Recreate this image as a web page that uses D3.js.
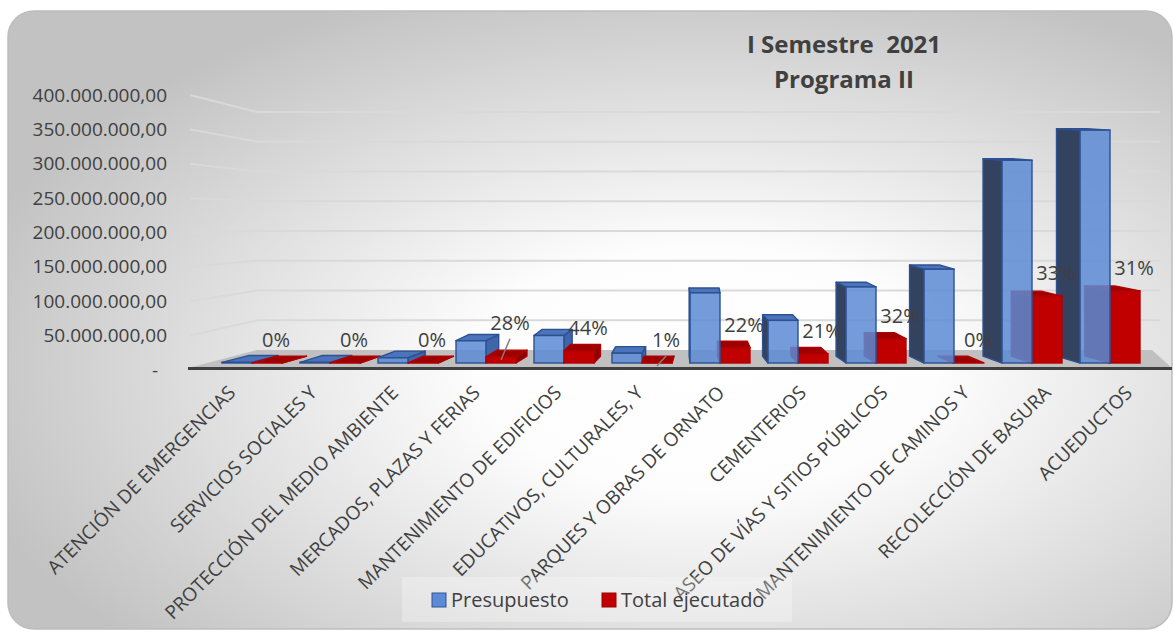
<!DOCTYPE html>
<html>
<head>
<meta charset="utf-8">
<script src="https://cdn.jsdelivr.net/npm/d3@7"></script>
<style>
  html, body { margin: 0; padding: 0; background: #fff; }
  svg { display: block; font-family: "Open Sans", sans-serif; }
</style>
</head>
<body>
<svg id="chart" width="1174" height="632"></svg>
<script>
// data
const categories = [
    'ATENCIÓN DE EMERGENCIAS',
    'SERVICIOS SOCIALES Y',
    'PROTECCIÓN DEL MEDIO AMBIENTE',
    'MERCADOS, PLAZAS Y FERIAS',
    'MANTENIMIENTO DE EDIFICIOS',
    'EDUCATIVOS, CULTURALES, Y',
    'PARQUES Y OBRAS DE ORNATO',
    'CEMENTERIOS',
    'ASEO DE VÍAS Y SITIOS PÚBLICOS',
    'MANTENIMIENTO DE CAMINOS Y',
    'RECOLECCIÓN DE BASURA',
    'ACUEDUCTOS'
];
const presupuesto = [1000000, 1000000, 8000000, 34000000, 42000000, 15000000, 107000000, 65000000, 116000000, 143000000, 309000000, 355000000];
const ejecutado = [0, 0, 0, 9500000, 18500000, 150000, 23500000, 13700000, 37000000, 0, 102000000, 110000000];
const pctLabels = ['0%', '0%', '0%', '28%', '44%', '1%', '22%', '21%', '32%', '0%', '33%', '31%'];
const seriesNames = ['Presupuesto', 'Total ejecutado'];
const yTicks = d3.range(0, 400000001, 50000000);
const titleLines = ['I Semestre  2021', 'Programa II'];

const txtColor = '#404040';

document.addEventListener('DOMContentLoaded', function() {

    const svg = d3.select('#chart');
    const defs = svg.append('defs');

    // background panel
    const bg = defs.append('radialGradient')
        .attr('id', 'bgGrad')
        .attr('cx', 0.6).attr('cy', 0.58).attr('r', 0.66);
    bg.selectAll('stop')
        .data([[0, '#ffffff'], [0.3, '#fdfdfd'], [1, '#c2c2c2']])
        .join('stop')
            .attr('offset', d => d[0])
            .attr('stop-color', d => d[1]);

    svg.append('rect')
        .attr('x', 8).attr('y', 11)
        .attr('width', 1164).attr('height', 618)
        .attr('rx', 26)
        .attr('fill', 'url(#bgGrad)')
        .attr('stroke', '#bdbdbd')
        .attr('stroke-width', 1.5);

    // scales
    const x = d3.scaleBand()
        .domain(categories)
        .range([213, 1149])
        .paddingInner(18 / 78)
        .paddingOuter(9 / 78);
    const xs = d3.scaleBand()
        .domain(seriesNames)
        .range([0, x.bandwidth()]);
    const xLabel = d3.scalePoint()
        .domain(categories)
        .range([236, 1133]);

    const yFront = d3.scaleLinear().domain([0, 400000000]).range([370, 95]);
    const yBack = d3.scaleLinear().domain([0, 400000000]).range([350, 112]);
    const yBar = d3.scaleLinear().domain([0, 400000000]).range([363, 100.6]);

    const color = d3.scaleOrdinal().domain(seriesNames).range(['#5d8ad4', '#c00000']);

    // walls
    const wallLeft = 190, wallBack = 257, wallRight = 1160;
    svg.append('g')
        .selectAll('path')
        .data(yTicks.slice(1))
        .join('path')
            .attr('d', v => `M${wallLeft},${yFront(v)}L${wallBack},${yBack(v)}L${wallRight},${yBack(v)}`)
            .attr('fill', 'none')
            .attr('stroke', '#d9d9d9')
            .attr('stroke-width', 2);

    // floor
    svg.append('path')
        .attr('d', `M${wallBack},${yBack(0)}L${wallRight - 8},${yBack(0)}L1172,${yFront(0) - 2}L${wallLeft - 2},${yFront(0) - 2}Z`)
        .attr('fill', '#c0c0c0');
    svg.append('line')
        .attr('x1', wallLeft - 2).attr('x2', 1172)
        .attr('y1', yFront(0) - 1.5).attr('y2', yFront(0) - 1.5)
        .attr('stroke', '#3f3f3f')
        .attr('stroke-width', 3);

    // y axis
    const loc = d3.formatLocale({ decimal: ',', thousands: '.', grouping: [3], currency: ['', ''] });
    const fmt = loc.format(',.2f');
    const yAxis = svg.append('g')
        .attr('transform', 'translate(167,0)')
        .call(d3.axisLeft(yFront).tickValues(yTicks).tickSize(0).tickPadding(0)
            .tickFormat(v => v === 0 ? '-' : fmt(v)));
    yAxis.select('.domain').remove();
    yAxis.selectAll('text')
        .attr('font-family', '"Open Sans", sans-serif')
        .attr('font-size', 19)
        .attr('fill', txtColor)
        .attr('dx', v => v === 0 ? -9 : 0);

    // pseudo 3d columns
    const vpX = 690, k = 0.058;
    const faces = svg.append('g');

    function drawBox(g, x0, x1, v, fill, top, side, stroke, frontOpacity) {
        const yT = yBar(v), yB = yBar(0);
        const dx = (vpX - (x0 + x1) / 2) * k;
        const dyT = Math.max(1.5, (yT - 120) * 0.028);
        const dyB = (yB - 120) * 0.028;
        const sx = dx < 0 ? x0 : x1;
        g.append('path')
            .attr('d', `M${sx},${yT}L${sx + dx},${yT - dyT}L${sx + dx},${yB - dyB}L${sx},${yB}Z`)
            .attr('fill', side).attr('stroke', stroke).attr('stroke-width', 1.4)
            .attr('stroke-linejoin', 'round');
        g.append('path')
            .attr('d', `M${x0},${yT}L${x1},${yT}L${x1 + dx},${yT - dyT}L${x0 + dx},${yT - dyT}Z`)
            .attr('fill', top).attr('stroke', stroke).attr('stroke-width', 1.4)
            .attr('stroke-linejoin', 'round');
        g.append('rect')
            .attr('x', x0).attr('y', yT)
            .attr('width', x1 - x0).attr('height', yB - yT)
            .attr('fill', fill).attr('fill-opacity', frontOpacity)
            .attr('stroke', stroke).attr('stroke-width', 1.4);
    }

    const order = d3.range(categories.length)
        .sort((a, b) => Math.abs(x(categories[b]) + 30 - vpX) - Math.abs(x(categories[a]) + 30 - vpX));

    order.forEach(function(i) {
        const c = categories[i];
        const g = faces.append('g');
        const bx0 = x(c) + xs('Presupuesto'), bx1 = bx0 + xs.bandwidth();
        const rx0 = x(c) + xs('Total ejecutado'), rx1 = rx0 + xs.bandwidth();
        const drawBlue = () => drawBox(g, bx0, bx1, presupuesto[i], color('Presupuesto'), '#4c74bb', (bx0 + bx1) / 2 > vpX ? '#33425f' : '#3f66ab', '#2c5193', 0.86);
        const drawRed = () => drawBox(g, rx0, rx1, ejecutado[i], color('Total ejecutado'), '#9e0000', '#8a0000', '#b00000', 1);
        if (x(c) + 30 > vpX) { drawRed(); drawBlue(); }
        else { drawBlue(); drawRed(); }
    });

    // data labels on the executed series
    const labelRaise = { 'MERCADOS, PLAZAS Y FERIAS': 11 };
    const leaders = ['MERCADOS, PLAZAS Y FERIAS', 'EDUCATIVOS, CULTURALES, Y'];
    const labels = svg.append('g');
    categories.forEach(function(c, i) {
        const rc = x(c) + xs('Total ejecutado') + xs.bandwidth() / 2;
        const ly = yBar(ejecutado[i]) - 23 - (labelRaise[c] || 0);
        const lx = rc + 9;
        if (leaders.includes(c)) {
            labels.append('line')
                .attr('x1', lx).attr('y1', ly + 16)
                .attr('x2', rc).attr('y2', yBar(ejecutado[i]) + 3)
                .attr('stroke', '#7f7f7f').attr('stroke-width', 1.5);
        }
        labels.append('text')
            .attr('x', lx).attr('y', ly)
            .attr('dy', '0.35em')
            .attr('text-anchor', 'middle')
            .attr('font-size', 20)
            .attr('fill', txtColor)
            .text(pctLabels[i]);
    });

    // category axis
    const xAxis = svg.append('g')
        .attr('transform', 'translate(0,394)')
        .call(d3.axisBottom(xLabel).tickSize(0).tickPadding(0));
    xAxis.select('.domain').remove();
    xAxis.selectAll('text')
        .attr('font-family', '"Open Sans", sans-serif')
        .attr('font-size', 19)
        .attr('fill', txtColor)
        .attr('text-anchor', 'end')
        .attr('x', 0).attr('y', 0).attr('dy', 0)
        .attr('transform', 'rotate(-45)');

    // legend
    svg.append('rect')
        .attr('x', 402).attr('y', 577)
        .attr('width', 390).attr('height', 45)
        .attr('fill', '#ffffff').attr('fill-opacity', 0.28);
    const legendX = [432, 602];
    const legend = svg.append('g')
        .selectAll('g')
        .data(seriesNames)
        .join('g')
            .attr('transform', (d, i) => `translate(${legendX[i]},593)`);
    legend.append('rect')
        .attr('width', 14).attr('height', 14)
        .attr('fill', d => color(d))
        .attr('stroke', (d, i) => i === 0 ? '#2f5597' : '#a00000')
        .attr('stroke-width', 1);
    legend.append('text')
        .attr('x', 19).attr('y', 7)
        .attr('dy', '0.35em')
        .attr('font-size', 20)
        .attr('fill', txtColor)
        .text(d => d);

    // title
    svg.append('g')
        .selectAll('text')
        .data(titleLines)
        .join('text')
            .attr('x', 844)
            .attr('y', (d, i) => 53 + i * 35)
            .attr('text-anchor', 'middle')
            .attr('font-size', 24)
            .attr('font-weight', 'bold')
            .attr('fill', txtColor)
            .style('white-space', 'pre')
            .text(d => d);
});
</script>
</body>
</html>
